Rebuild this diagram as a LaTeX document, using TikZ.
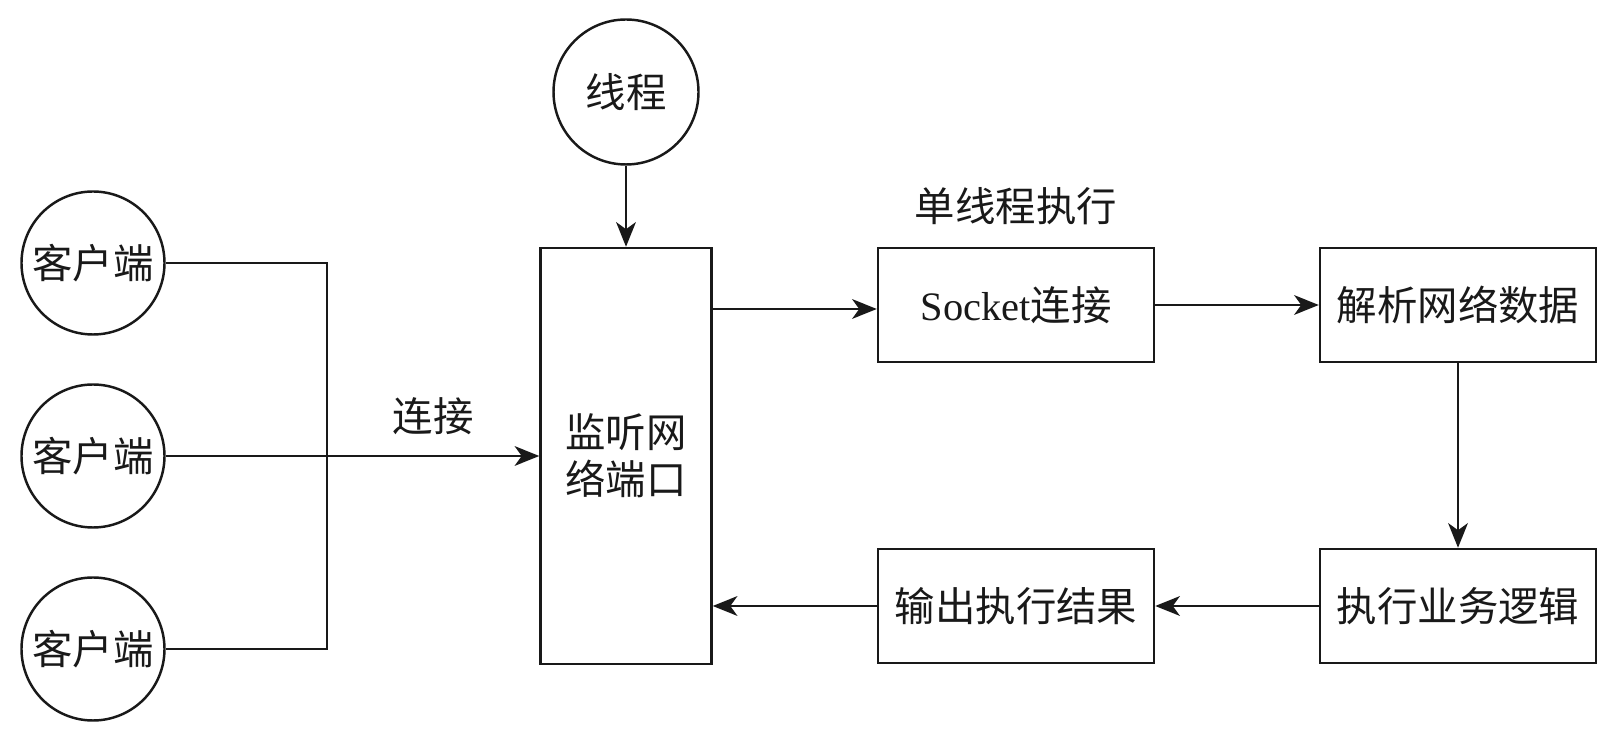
\documentclass[tikz,border=0pt]{standalone}
\usepackage{fontspec}
\setmainfont{Liberation Serif}
\newfontfamily\cjk{Noto Sans CJK SC}
\usepackage{tikz}
\usetikzlibrary{arrows.meta, positioning, calc}
\tikzset{
    client/.style={
        circle,
        minimum size=1.43cm,
        inner sep=0pt,
        draw=black!90,
        line width=0.7pt
    },
    process/.style={
        rectangle,
        minimum width=2.76cm,
        minimum height=1.14cm,
        inner sep=0pt,
        align=center, % untuk \\
        draw=black!90,
        line width=0.7pt
    },
    arrow/.style={
        line width=0.7pt,
        draw=black!90,
        -{Stealth[length=7pt, width=5.6pt, inset=2pt]}
    }
}

\begin{document}
\begin{tikzpicture}[
    every node/.style={font=\cjk\fontsize{11.5}{13.4}\selectfont, text=black!90},
    link/.style={line width=0.7pt, draw=black!90}
]
\useasboundingbox (0,0) rectangle (16.08,7.42);
\node[client, minimum size=1.45cm] (thread) at (6.26,6.50) {线程};
\node[client] (clientA) at (0.93,4.79) {客户端};
\node[client] (clientB) at (0.93,2.86) {客户端};
\node[client] (clientC) at (0.93,0.93) {客户端};
\node[process, minimum width=1.71cm, minimum height=4.16cm] (listen) at (6.26,2.86) {监听网\\络端口};
\node[process] (socket) at (10.16,4.37) {{\rmfamily Socket}连接};
\node[process] (parse) at (14.58,4.37) {解析网络数据};
\node[process] (logic) at (14.58,1.36) {执行业务逻辑};
\node[process] (output) at (10.16,1.36) {输出执行结果};
\node (single) at (10.16,5.36) {单线程执行};
\node (connect) at (4.33,3.26) {连接};
\coordinate (bus) at (3.27,2.86);
\draw[link] (clientA.east) -| (bus |- clientC) -- (clientC.east);
\draw[arrow] (clientB.east) -- (listen.west);
\draw[arrow] (thread.south) -- (listen.north);
\draw[arrow] ([yshift=-0.04cm]listen.east |- socket.west) -- ([yshift=-0.04cm]socket.west);
\draw[arrow] (socket.east) -- (parse.west);
\draw[arrow] (parse.south) -- (logic.north);
\draw[arrow] (logic.west) -- (output.east);
\draw[arrow] (output.west) -- (output.west -| listen.east);
\end{tikzpicture}
\end{document}
